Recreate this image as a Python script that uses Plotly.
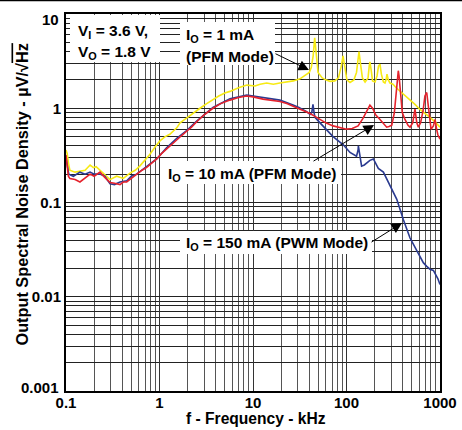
import math
import plotly.graph_objects as go

# ---- data (frequency in kHz, noise density in uV/sqrt(Hz)) ----
yellow_f = [0.1, 0.103, 0.107, 0.11, 0.125, 0.141, 0.16, 0.181, 0.196, 0.21, 0.231, 0.26, 0.296, 0.348, 0.41, 0.484,
            0.55, 0.618, 0.7, 0.791, 0.9, 1.01, 1.15, 1.29, 1.53, 1.66, 1.9, 2.12, 2.4, 2.71, 3.2, 3.74, 4.3, 5.0, 5.67,
            7.0, 8.6, 10.5, 11.9, 14, 16.5, 19.4, 23, 27, 31.8, 35, 37.8, 40, 42, 44, 45.7, 47.5, 49.6, 55, 60, 66.6,
            75, 82, 88, 91.8, 96, 101, 109, 120, 128, 132, 136, 141, 148, 158, 170, 175, 178, 183, 190, 202, 212, 220,
            228, 236, 248, 258, 265, 271, 280, 292, 314, 340, 373, 420, 477, 540, 611, 700, 781, 880, 1000]
yellow_v = [0.36, 0.33, 0.25, 0.22, 0.21, 0.215, 0.22, 0.25, 0.235, 0.24, 0.22, 0.2, 0.175, 0.19, 0.18, 0.205,
            0.22, 0.245, 0.28, 0.325, 0.39, 0.45, 0.5, 0.53, 0.62, 0.7, 0.77, 0.84, 0.92, 1.0, 1.12, 1.25, 1.35, 1.45,
            1.51, 1.65, 1.76, 1.72, 1.8, 1.85, 1.8, 1.85, 1.9, 1.95, 2.05, 2.2, 2.3, 2.4, 2.7, 3.6, 5.6, 3.4, 2.4, 2.1,
            2.0, 1.93, 1.95, 2.1, 2.8, 3.6, 2.6, 2.0, 1.88, 2.0, 2.4, 3.4, 4.0, 3.0, 2.1, 1.9, 2.1, 2.8, 3.1, 2.6, 1.95,
            1.9, 2.2, 2.8, 2.94, 2.3, 1.9, 1.85, 2.0, 2.3, 2.0, 1.85, 1.8, 1.65, 1.52, 1.38, 1.25, 1.1, 0.97, 0.88,
            0.8, 0.72, 0.63]

red_f = [0.1, 0.103, 0.106, 0.11, 0.125, 0.141, 0.16, 0.181, 0.2, 0.231, 0.26, 0.296, 0.33, 0.378, 0.41, 0.446, 0.5,
         0.57, 0.65, 0.73, 0.82, 0.933, 1.05, 1.19, 1.35, 1.53, 1.75, 1.95, 2.2, 2.5, 3.0, 3.73, 4.5, 5.67, 7.0, 8.57,
         10, 12.8, 16, 19.4, 23, 26.8, 31, 37.5, 40.7, 46, 52.1, 60, 71.8, 85, 100, 115, 133, 150, 165, 178, 190, 205,
         228, 255, 269, 285, 305, 325, 340, 352, 358, 365, 378, 395, 422, 455, 478, 510, 540, 565, 587, 620, 660, 690,
         721, 760, 802, 850, 885, 920, 950, 1000]
red_v = [0.32, 0.25, 0.19, 0.18, 0.175, 0.165, 0.18, 0.2, 0.19, 0.21, 0.185, 0.163, 0.16, 0.155, 0.165, 0.165, 0.18,
         0.2, 0.22, 0.236, 0.26, 0.29, 0.33, 0.37, 0.42, 0.47, 0.52, 0.57, 0.63, 0.72, 0.85, 1.0, 1.12, 1.22, 1.3,
         1.35, 1.32, 1.25, 1.22, 1.18, 1.12, 1.05, 1.0, 0.92, 0.88, 0.82, 0.76, 0.7, 0.65, 0.62, 0.6, 0.61, 0.65, 0.78,
         0.95, 1.08, 1.0, 0.85, 0.76, 0.66, 0.63, 0.64, 0.66, 0.9, 1.5, 2.3, 2.5, 2.2, 1.4, 0.9, 0.76, 0.66, 0.63, 0.7,
         0.98, 0.7, 0.63, 0.7, 0.95, 1.35, 1.47, 1.0, 0.6, 0.65, 0.76, 0.6, 0.52, 0.47]

blue_f = [0.1, 0.103, 0.107, 0.12, 0.141, 0.16, 0.181, 0.2, 0.231, 0.26, 0.296, 0.33, 0.378, 0.446, 0.5, 0.57, 0.73,
          0.933, 1.19, 1.53, 1.95, 2.5, 3.73, 5.67, 8.57, 12.8, 19.4, 26.8, 31, 37.5, 40.7, 42.5, 43.8, 45, 46, 52.1,
          56.1, 66.7, 71.8, 92.4, 109, 128, 133, 134, 138, 142, 145, 155, 164, 178, 194, 205, 219, 248, 292, 345, 405,
          478, 563, 663, 721, 781, 850, 907, 950, 1000]
blue_v = [0.3, 0.24, 0.2, 0.19, 0.21, 0.2, 0.21, 0.2, 0.2, 0.19, 0.158, 0.155, 0.165, 0.17, 0.19, 0.2, 0.24, 0.29,
          0.38, 0.48, 0.58, 0.73, 1.02, 1.26, 1.38, 1.3, 1.22, 1.08, 1.02, 0.92, 0.86, 0.9, 1.1, 0.9, 0.8, 0.7, 0.65,
          0.55, 0.5, 0.41, 0.34, 0.31, 0.36, 0.40, 0.33, 0.30, 0.243, 0.25, 0.26, 0.28, 0.29, 0.26, 0.23, 0.21, 0.149,
          0.108, 0.066, 0.042, 0.031, 0.023, 0.021, 0.0196, 0.019, 0.017, 0.0155, 0.0135]

x_decades = [0.1, 1, 10, 100, 1000]
x_tick_labels = ["0.1", "1", "10", "100", "1000"]
y_decades = [0.001, 0.01, 0.1, 1, 10]
y_tick_labels = ["0.001", "0.01", "0.1", "1", "10"]

FONT = "Arial, Liberation Sans, sans-serif"

def minor_vals(decades):
    vals = []
    for d in decades[:-1]:
        for m in range(2, 10):
            vals.append(d * m)
    return vals

fig = go.Figure()
fig.add_trace(go.Scatter(x=yellow_f, y=yellow_v, mode="lines", line=dict(color="#f7ea14", width=1.6)))
fig.add_trace(go.Scatter(x=blue_f, y=blue_v, mode="lines", line=dict(color="#2a3a90", width=1.6)))
fig.add_trace(go.Scatter(x=red_f, y=red_v, mode="lines", line=dict(color="#e5222c", width=1.6)))

W, H = 462, 430
L, R, T, B = 66, 22, 14, 39
PW, PH = W - L - R, H - T - B

def px(xp):
    return (xp - L) / PW

def py(yp):
    return (H - B - yp) / PH

shapes = []
for (x0, x1, y0, y1) in [(70, 160, 15, 62), (180, 275, 22, 65), (160, 341, 161, 184), (180, 372, 231, 254)]:
    shapes.append(dict(type="rect", xref="paper", yref="paper", x0=px(x0), x1=px(x1), y0=py(y1), y1=py(y0),
                       fillcolor="white", line=dict(width=0), layer="above"))
shapes.append(dict(type="line", xref="paper", yref="paper", x0=-0.2, x1=1.1, y0=py(0.5), y1=py(0.5),
                   line=dict(color="black", width=1.5)))

annots = []
def txt(s, xp, yp, size=15.5):
    annots.append(dict(text="<b>" + s + "</b>", xref="paper", yref="paper", x=px(xp), y=py(yp),
                       xanchor="left", yanchor="middle", showarrow=False,
                       font=dict(family=FONT, size=size, color="black")))

txt("V<sub>I</sub> = 3.6 V,", 76, 31)
txt("V<sub>O</sub> = 1.8 V", 76, 53)
txt("I<sub>O</sub> = 1 mA", 184, 36)
txt("(PFM Mode)", 184, 57)
txt("I<sub>O</sub> = 10 mA (PFM Mode)", 166, 174)
txt("I<sub>O</sub> = 150 mA (PWM Mode)", 184, 244)

def arrow(tx, ty, hx, hy):
    annots.append(dict(text="", xref="paper", yref="paper", x=px(hx), y=py(hy), ax=tx - hx, ay=ty - hy,
                       showarrow=True, arrowhead=2, arrowsize=2.1, arrowwidth=1, arrowcolor="black", standoff=0))

arrow(274, 53, 309, 70)
arrow(312, 162, 374, 125)
arrow(370, 243, 402, 223)

annots.append(dict(text="<b>f - Frequency - kHz</b>", xref="paper", yref="paper", x=px(256), y=py(418),
                   xanchor="center", yanchor="middle", showarrow=False,
                   font=dict(family=FONT, size=15.6, color="black")))
annots.append(dict(text="<b>Output Spectral Noise Density - \u00b5V/\u221a<span style='text-decoration:overline'>Hz</span></b>",
                   xref="paper", yref="paper", x=px(21.5), y=py(195), textangle=-90,
                   xanchor="center", yanchor="middle", showarrow=False,
                   font=dict(family=FONT, size=16.3, color="black")))

# end labels of the y axis sit just inside the frame in the original
annots.append(dict(text="<b>" + y_tick_labels[-1] + "</b>", xref="paper", yref="y", x=px(61),
                   y=math.log10(y_decades[-1]), yshift=-5, xanchor="right", yanchor="middle", showarrow=False,
                   font=dict(family=FONT, size=15, color="black")))
annots.append(dict(text="<b>" + y_tick_labels[0] + "</b>", xref="paper", yref="y", x=px(61),
                   y=math.log10(y_decades[0]), yshift=4, xanchor="right", yanchor="middle", showarrow=False,
                   font=dict(family=FONT, size=15, color="black")))

fig.update_layout(
    width=W, height=H, autosize=False,
    margin=dict(l=L, r=R, t=T, b=B, autoexpand=False),
    paper_bgcolor="white", plot_bgcolor="white", showlegend=False,
    shapes=shapes, annotations=annots,
    font=dict(family=FONT, size=15, color="black"),
)
fig.update_xaxes(type="log", range=[-1, 3], tickvals=x_decades, ticktext=x_tick_labels, ticks="",
                 automargin=False,
                 showgrid=True, gridcolor="#333", gridwidth=1,
                 minor=dict(tickvals=minor_vals(x_decades), showgrid=True, gridcolor="#555", gridwidth=1, ticks=""),
                 showline=True, linecolor="black", linewidth=2, mirror=True, zeroline=False,
                 tickfont=dict(family=FONT, size=15, color="black", weight="bold"))
try:
    fig.update_xaxes(ticklabelstandoff=-3)
except Exception:
    pass
fig.update_yaxes(type="log", range=[-3, 1], tickvals=y_decades[1:-1], ticktext=y_tick_labels[1:-1], ticks="",
                 automargin=False,
                 showgrid=True, gridcolor="#222", gridwidth=1,
                 minor=dict(tickvals=minor_vals(y_decades), showgrid=True, gridcolor="#222", gridwidth=1, ticks=""),
                 showline=True, linecolor="black", linewidth=2, mirror=True, zeroline=False,
                 tickfont=dict(family=FONT, size=15, color="black", weight="bold"))

fig.write_html("out.html", config={"displayModeBar": False},
               post_script="document.body.style.margin='0';")
